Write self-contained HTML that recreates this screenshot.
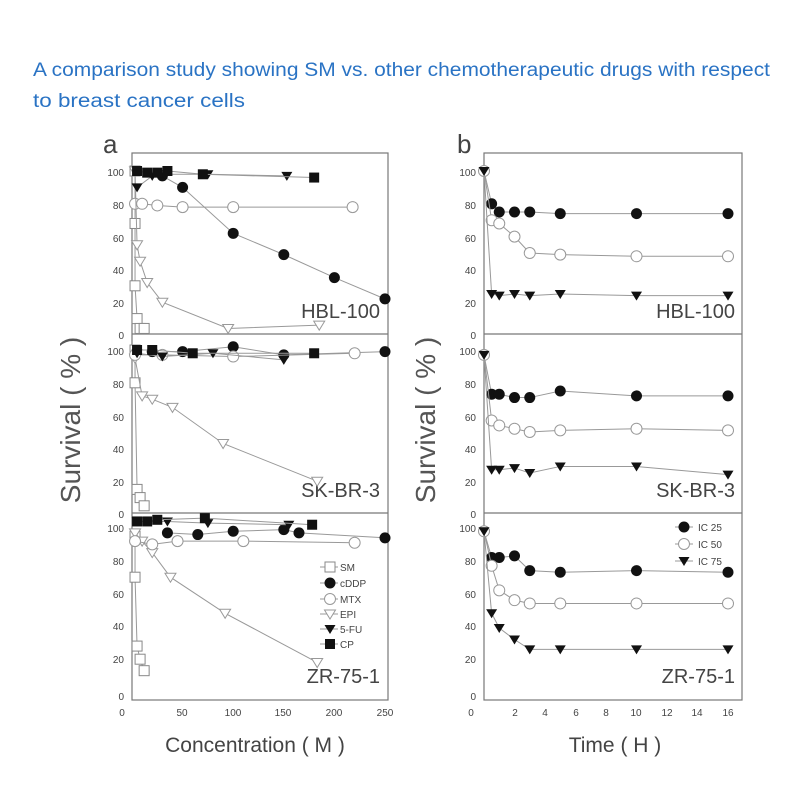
<!DOCTYPE html>
<html><head><meta charset="utf-8"><style>
body{margin:0;background:#fff;}
svg text{font-family:"Liberation Sans",sans-serif;}
</style></head><body>
<svg id="s" width="800" height="800" xmlns="http://www.w3.org/2000/svg">
<text x="33" y="76" font-size="19" fill="#2a73c4" textLength="737" lengthAdjust="spacingAndGlyphs">A comparison study showing SM vs. other chemotherapeutic drugs with respect</text>
<text x="33" y="107" font-size="19" fill="#2a73c4" textLength="212" lengthAdjust="spacingAndGlyphs">to breast cancer cells</text>
<text x="103" y="153" font-size="26" fill="#444">a</text>
<text x="457" y="153" font-size="26" fill="#444">b</text>
<g fill="none" stroke="#777" stroke-width="1.2">
<rect x="132" y="153" width="256" height="547"/>
<line x1="132" y1="334" x2="388" y2="334"/><line x1="132" y1="513" x2="388" y2="513"/>
<rect x="484" y="153" width="258" height="547"/>
<line x1="484" y1="334" x2="742" y2="334"/><line x1="484" y1="513" x2="742" y2="513"/>
</g>
<text transform="translate(80,420) rotate(-90)" font-size="28" fill="#555" text-anchor="middle">Survival ( % )</text>
<text transform="translate(435,420) rotate(-90)" font-size="28" fill="#555" text-anchor="middle">Survival ( % )</text>
<text x="255" y="752" font-size="21" fill="#444" text-anchor="middle">Concentration ( M )</text>
<text x="615" y="752" font-size="21" fill="#444" text-anchor="middle">Time ( H )</text>
<g font-size="10" fill="#444" text-anchor="middle">
<text x="122" y="716">0</text><text x="182" y="716">50</text><text x="233" y="716">100</text><text x="283" y="716">150</text><text x="334" y="716">200</text><text x="385" y="716">250</text>
<text x="471" y="716">0</text><text x="515" y="716">2</text><text x="545" y="716">4</text><text x="576" y="716">6</text><text x="606" y="716">8</text><text x="636" y="716">10</text><text x="667" y="716">12</text><text x="697" y="716">14</text><text x="728" y="716">16</text>
</g>
<g font-size="20" fill="#444" text-anchor="end">
<text x="380" y="318">HBL-100</text><text x="380" y="497">SK-BR-3</text><text x="380" y="683">ZR-75-1</text>
<text x="735" y="318">HBL-100</text><text x="735" y="497">SK-BR-3</text><text x="735" y="683">ZR-75-1</text>
</g>
<g font-size="10" fill="#444" text-anchor="end">
<text x="124" y="176">100</text><text x="124" y="209">80</text><text x="124" y="242">60</text><text x="124" y="274">40</text><text x="124" y="307">20</text><text x="124" y="339">0</text>
<text x="124" y="355">100</text><text x="124" y="388">80</text><text x="124" y="421">60</text><text x="124" y="453">40</text><text x="124" y="486">20</text><text x="124" y="518">0</text>
<text x="124" y="532">100</text><text x="124" y="565">80</text><text x="124" y="598">60</text><text x="124" y="630">40</text><text x="124" y="663">20</text><text x="124" y="700">0</text>
<text x="476" y="176">100</text><text x="476" y="209">80</text><text x="476" y="242">60</text><text x="476" y="274">40</text><text x="476" y="307">20</text><text x="476" y="339">0</text>
<text x="476" y="355">100</text><text x="476" y="388">80</text><text x="476" y="421">60</text><text x="476" y="453">40</text><text x="476" y="486">20</text><text x="476" y="518">0</text>
<text x="476" y="532">100</text><text x="476" y="565">80</text><text x="476" y="598">60</text><text x="476" y="630">40</text><text x="476" y="663">20</text><text x="476" y="700">0</text>
</g>
<g font-size="10" fill="#444">
<text x="340" y="571">SM</text><text x="340" y="587">cDDP</text><text x="340" y="603">MTX</text><text x="340" y="618">EPI</text><text x="340" y="633">5-FU</text><text x="340" y="648">CP</text>
<text x="698" y="531">IC 25</text><text x="698" y="548">IC 50</text><text x="698" y="565">IC 75</text>
</g>
<g id="d"></g>
</svg>
<script>
const g=document.getElementById('d');let h='';
function mk(t,x,y){const s=5;
 if(t=='sq')return `<rect x="${x-s}" y="${y-s}" width="${2*s}" height="${2*s}" fill="#fff" stroke="#888"/>`;
 if(t=='fs')return `<rect x="${x-s}" y="${y-s}" width="${2*s}" height="${2*s}" fill="#111"/>`;
 if(t=='fc')return `<circle cx="${x}" cy="${y}" r="5.5" fill="#111"/>`;
 if(t=='oc')return `<circle cx="${x}" cy="${y}" r="5.5" fill="#fff" stroke="#999"/>`;
 if(t=='ot')return `<path d="M${x-5.5} ${y-4}L${x+5.5} ${y-4}L${x} ${y+5}Z" fill="#fff" stroke="#999"/>`;
 if(t=='ft')return `<path d="M${x-5.5} ${y-4}L${x+5.5} ${y-4}L${x} ${y+5}Z" fill="#111"/>`;}
function ser(pts,t,X,Y){h+=`<polyline fill="none" stroke="#999" stroke-width="1" points="${pts.map(p=>X(p[0])+','+Y(p[1])).join(' ')}"/>`;
 pts.forEach(p=>h+=mk(t,X(p[0]),Y(p[1])));}
const XL=v=>132+v*1.012, XR=v=>484+v*15.25;
const Ys=[v=>335-1.64*v,v=>514-1.64*v,v=>692-1.64*v];
const L=[
{sq:[[3,100],[3,68],[3,30],[5,10],[8,4],[12,4]],fc:[[30,97],[50,90],[100,62],[150,49],[200,35],[250,22]],oc:[[3,80],[10,80],[25,79],[50,78],[100,78],[218,78]],ot:[[3,100],[5,55],[8,45],[15,32],[30,20],[95,4],[185,6]],ft:[[5,90],[20,97],[30,98],[75,98],[153,97]],fs:[[5,100],[15,99],[25,99],[35,100],[70,98],[180,96]]},
{sq:[[3,100],[3,80],[5,15],[8,10],[12,5]],ot:[[3,95],[10,72],[20,70],[40,65],[90,43],[183,20]],fc:[[20,99],[50,99],[100,102],[150,97],[250,99]],oc:[[3,97],[30,97],[100,96],[220,98]],ft:[[5,98],[30,96],[80,98],[150,94]],fs:[[5,100],[20,100],[60,98],[180,98]]},
{sq:[[3,95],[3,70],[5,28],[8,20],[12,13]],ot:[[3,97],[10,92],[20,85],[38,70],[92,48],[183,18]],oc:[[3,92],[20,90],[45,92],[110,92],[220,91]],fc:[[35,97],[65,96],[100,98],[150,99],[165,97],[250,94]],ft:[[5,104],[35,104],[75,103],[155,102]],fs:[[5,104],[15,104],[25,105],[72,106],[178,102]]}];
L.forEach((o,i)=>{for(const t in o)ser(o[t],t,XL,Ys[i]);});
const R=[
{fc:[[0,100],[.5,80],[1,75],[2,75],[3,75],[5,74],[10,74],[16,74]],oc:[[0,100],[.5,70],[1,68],[2,60],[3,50],[5,49],[10,48],[16,48]],ft:[[0,100],[.5,25],[1,24],[2,25],[3,24],[5,25],[10,24],[16,24]]},
{fc:[[0,97],[.5,73],[1,73],[2,71],[3,71],[5,75],[10,72],[16,72]],oc:[[0,97],[.5,57],[1,54],[2,52],[3,50],[5,51],[10,52],[16,51]],ft:[[0,97],[.5,27],[1,27],[2,28],[3,25],[5,29],[10,29],[16,24]]},
{fc:[[0,98],[.5,82],[1,82],[2,83],[3,74],[5,73],[10,74],[16,73]],oc:[[0,98],[.5,77],[1,62],[2,56],[3,54],[5,54],[10,54],[16,54]],ft:[[0,98],[.5,48],[1,39],[2,32],[3,26],[5,26],[10,26],[16,26]]}];
R.forEach((o,i)=>{for(const t in o)ser(o[t],t,XR,Ys[i]);});
[['sq',567],['fc',583],['oc',599],['ot',614],['ft',629],['fs',644]].forEach(a=>{h+=`<line x1="320" x2="338" y1="${a[1]}" y2="${a[1]}" stroke="#999"/>`+mk(a[0],330,a[1]);});
[['fc',527],['oc',544],['ft',561]].forEach(a=>{h+=`<line x1="675" x2="693" y1="${a[1]}" y2="${a[1]}" stroke="#999"/>`+mk(a[0],684,a[1]);});
g.innerHTML=h;
</script>
</body></html>
